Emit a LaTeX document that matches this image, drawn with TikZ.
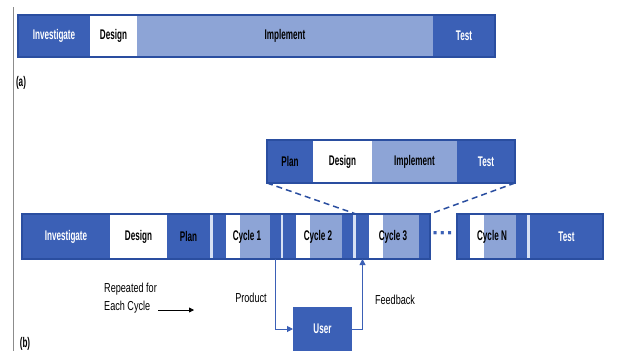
\documentclass[tikz,border=0pt]{standalone}
\usepackage{fontspec}
\setmainfont{Liberation Sans}
\newfontfamily\condfont[FakeStretch=0.58]{Liberation Sans}
\newfontfamily\labelfont[FakeStretch=0.7]{Liberation Sans}
\usetikzlibrary{arrows.meta,positioning}
\definecolor{phasedark}{RGB}{59,96,182}
\definecolor{phaselight}{RGB}{141,164,214}
\definecolor{phaseline}{RGB}{42,78,160}
\definecolor{phasegap}{RGB}{214,224,244}

\begin{document}
\begin{tikzpicture}[x=1pt, y=-1pt,
    seg/.style={rectangle, anchor=north west, inner sep=0pt, outer sep=0pt,
                font=\condfont\fontsize{14}{16}\bfseries\selectfont},
    dk/.style={seg, fill=phasedark, text=white},
    dkp/.style={seg, fill=phasedark, text=black},
    lt/.style={seg, fill=phaselight, text=black},
    wt/.style={seg, fill=white, text=black},
    rowa/.style={minimum height=42},
    rowz/.style={minimum height=43},
    rowb/.style={minimum height=45},
    frame/.style={draw=phaseline, line width=1.2pt},
    zoomline/.style={draw=phaseline, dashed, dash pattern=on 6pt off 4pt, line width=1.5pt},
    arr/.style={-{Triangle[length=6pt, width=6pt]}, phasedark, line width=1pt},
    lbl/.style={font=\labelfont\fontsize{13}{18}\selectfont, inner sep=1pt}]
    \useasboundingbox (0,0) rectangle (636,351);
    \draw[black!45, line width=0.8pt] (13,7) -- (13,351);

    % (a) one pass
    \node[dk, rowa, minimum width=72] (ainv) at (18,15) {Investigate};
    \node[wt, rowa, minimum width=47, right=0pt of ainv] (ades) {Design};
    \node[lt, rowa, minimum width=296, right=0pt of ades] (aimp) {Implement};
    \node[dk, rowa, minimum width=62, right=0pt of aimp] (atest) {Test};
    \draw[frame] (ainv.north west) rectangle (atest.south east);
    \node[seg, anchor=center] (la) at (21,83) {(a)};

    % (b) cycles
    \fill[phasegap] (22,214) rectangle (430,259);
    \fill[phasegap] (457,214) rectangle (603,259);
    \node[dk, rowb, minimum width=88] (binv) at (22,214) {Investigate};
    \node[wt, rowb, minimum width=57, right=0pt of binv] (bdes) {Design};
    \node[dkp, rowb, minimum width=43, right=0pt of bdes] (bplan) {Plan};
    \foreach \x/\w/\n/\t in {213/68/c1/Cycle 1, 283/70/c2/Cycle 2,
                            356/74/c3/Cycle 3, 457/70/cn/Cycle N} {
        \node[dk, rowb, minimum width=13] (\n-p) at (\x,214) {};
        \node[wt, rowb, minimum width=14, right=0pt of \n-p] (\n-d) {};
        \node[lt, rowb, minimum width=\w-38, right=0pt of \n-d] (\n-i) {};
        \node[dk, rowb, minimum width=11, right=0pt of \n-i] (\n-t) {};
        \node[seg, anchor=center, text=black] (\n) at (\x+\w/2,236.5) {\t};
    }
    \node[dk, rowb, minimum width=73] (btest) at (530,214) {Test};
    \draw[frame] (binv.north west) rectangle (c3-t.south east);
    \draw[frame] (cn-p.north west) rectangle (btest.south east);
    \node[text=phasedark, font=\fontsize{22}{22}\bfseries\selectfont] (dots) at (443,236) {···};

    % zoom on one cycle
    \node[dkp, rowz, minimum width=46] (zplan) at (267,140) {Plan};
    \node[wt, rowz, minimum width=59, right=0pt of zplan] (zdes) {Design};
    \node[lt, rowz, minimum width=85, right=0pt of zdes] (zimp) {Implement};
    \node[dk, rowz, minimum width=58, right=0pt of zimp] (ztest) {Test};
    \draw[frame] (zplan.north west) rectangle (ztest.south east);
    \draw[zoomline] (zplan.south west) -- (c3-p.north west);
    \draw[zoomline] (ztest.south east) -- (c3-t.north east);

    % user loop
    \node[dk, minimum width=59, minimum height=44] (user) at (293,307) {User};
    \draw[arr] (c1-t.south) |- (user.west);
    \draw[arr] (user.east) -| (c3-p.south);
    \node[lbl] (prod) at (251,298) {Product};
    \node[lbl] (fb) at (395,300) {Feedback};
    \node[lbl, align=left, anchor=north west] (rep) at (103,282) {Repeated for\\Each Cycle};
    \coordinate (repend) at (194,310);
    \draw[-{Triangle[length=5pt, width=5pt]}, line width=0.8pt] (rep.south east |- repend) -- (repend);
    \node[seg, anchor=center] (lb) at (25,344) {(b)};
\end{tikzpicture}
\end{document}
